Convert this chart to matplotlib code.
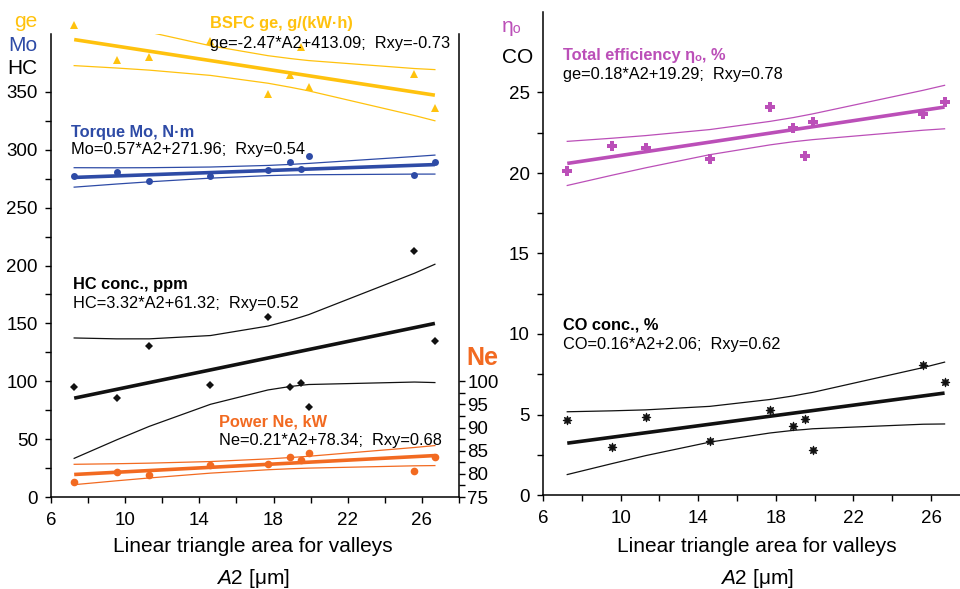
import matplotlib
matplotlib.use('Agg')
import matplotlib.pyplot as plt
import numpy as np

plt.rcParams['font.family'] = ['Liberation Sans', 'DejaVu Sans']
plt.rcParams['mathtext.fontset'] = 'custom'
plt.rcParams['mathtext.rm'] = 'Liberation Sans'
plt.rcParams['mathtext.it'] = 'Liberation Sans:italic'

# ---------------- data ----------------
A2 = [7.25, 9.55, 11.3, 14.6, 17.7, 18.9, 19.5, 19.9, 25.6, 26.7]

ge = [408.0, 377.9, 380.5, 393.8, 347.8, 364.6, 389.2, 354.2, 365.7, 336.2]
Mo = [276.9, 280.4, 273.4, 277.5, 282.4, 289.1, 283.0, 294.9, 277.8, 289.6]
HC = [94.9, 85.1, 130.2, 96.9, 155.1, 95.2, 98.1, 77.8, 212.4, 135.2]
Ne = [78.3, 80.5, 79.7, 81.9, 82.1, 83.7, 83.0, 84.6, 80.6, 83.7]
eta = [20.12, 21.70, 21.57, 20.89, 24.12, 22.81, 21.07, 23.15, 23.65, 24.41]
CO = [4.66, 2.98, 4.86, 3.37, 5.28, 4.29, 4.74, 2.77, 8.09, 7.04]

# regression coefficients (slope, intercept) as printed on the chart
ge_fit = (-2.47, 413.09)
Mo_fit = (0.57, 271.96)
HC_fit = (3.32, 61.32)
Ne_fit = (0.21, 78.34)
eta_fit = (0.18, 19.29)
CO_fit = (0.16, 2.06)

# confidence band half-widths read at each A2 point
ge_band = [22.5, 18.9, 16.4, 12.8, 11.9, 12.4, 12.8, 13.1, 20.3, 22.1]
Mo_band = [8.4, 7.0, 6.1, 4.8, 4.4, 4.6, 4.8, 4.9, 7.6, 8.2]
HC_band = [52.0, 43.6, 37.8, 29.7, 27.6, 28.6, 29.5, 30.2, 47.0, 51.1]
Ne_band = [2.2, 1.84, 1.6, 1.25, 1.17, 1.21, 1.25, 1.28, 1.98, 2.16]
eta_band = [1.37, 1.15, 1.0, 0.78, 0.73, 0.75, 0.78, 0.80, 1.24, 1.35]
CO_band = [1.95, 1.64, 1.42, 1.11, 1.04, 1.07, 1.11, 1.13, 1.76, 1.92]

x_ticks = [6, 8, 10, 12, 14, 16, 18, 20, 22, 24, 26, 28]
x_ticklabels = ['6', '', '10', '', '14', '', '18', '', '22', '', '26', '']

# ---------------- colours ----------------
C_GE = '#FFC20E'
C_MO = '#2E4BA6'
C_HC = '#111111'
C_NE = '#F26A21'
C_ETA = '#BB4FB8'
C_CO = '#111111'

FS_TICK = 13.5
FS_LAB = 15
FS_NOTE = 11.8

W, H = 960, 589
fig = plt.figure(figsize=(W / 100, H / 100), dpi=100)


def fpos(x, y):
    return x / W, 1 - y / H


def ftext(x, y, s, **kw):
    fig.text(*fpos(x, y), s, **kw)


ax = fig.add_axes([51 / W, 92 / H, 408 / W, 463 / H])
axn = ax.twinx()
ax2 = fig.add_axes([543 / W, 94 / H, 426.8 / W, 483 / H])


def draw_series(a, y, fit, band, color, marker, ms, **mk):
    x = np.array(A2)
    line = fit[0] * x + fit[1]
    b = np.array(band)
    a.plot(x, line, color=color, lw=2.6, solid_capstyle='butt', zorder=2)
    a.plot(x, line + b, color=color, lw=0.9, zorder=2)
    a.plot(x, line - b, color=color, lw=0.9, zorder=2)
    a.plot(x, y, linestyle='none', marker=marker, color=color, ms=ms,
           zorder=3, clip_on=False, **mk)


draw_series(ax, ge, ge_fit, ge_band, C_GE, '^', 5.5, markeredgewidth=0)
draw_series(ax, Mo, Mo_fit, Mo_band, C_MO, 'o', 5.0, markeredgewidth=0)
draw_series(ax, HC, HC_fit, HC_band, C_HC, 'D', 4.2, markeredgewidth=0)
draw_series(axn, Ne, Ne_fit, Ne_band, C_NE, 'o', 5.5, markeredgewidth=0)
draw_series(ax2, eta, eta_fit, eta_band, C_ETA, 'P', 7.0, markeredgewidth=0)
draw_series(ax2, CO, CO_fit, CO_band, C_CO, (8, 1, 0), 6.5, markeredgewidth=0.6)

# ---------------- axes styling ----------------
for a in (ax, ax2):
    a.set_xlim(6, 28)
    a.set_xticks(x_ticks)
    a.set_xticklabels(x_ticklabels)
    a.spines['top'].set_visible(False)
    a.spines['right'].set_visible(False)
    for s in ('left', 'bottom'):
        a.spines[s].set_linewidth(1.1)
    a.tick_params(axis='both', direction='out', length=4.5, width=1.0,
                  labelsize=FS_TICK, colors='black')
    a.tick_params(axis='x', pad=6.5)
    a.tick_params(axis='y', pad=5)

ax.set_ylim(0, 400)
ax.set_yticks(np.arange(0, 351, 25))
ax.set_yticklabels([str(int(v)) if v % 50 == 0 else '' for v in np.arange(0, 351, 25)])

axn.set_ylim(75, 175)
ne_ticks = np.arange(75, 100.1, 2.5)
axn.set_yticks(ne_ticks)
axn.set_yticklabels([str(int(v)) if v % 5 == 0 else '' for v in ne_ticks])
for s in ('top', 'left', 'bottom'):
    axn.spines[s].set_visible(False)
axn.spines['right'].set_linewidth(1.1)
axn.tick_params(axis='y', direction='out', length=4.5, width=1.0,
                labelsize=FS_TICK, pad=1.5)

ax2.set_ylim(0, 30)
r_ticks = np.arange(0, 25.1, 2.5)
ax2.set_yticks(r_ticks)
ax2.set_yticklabels([str(int(v)) if v % 5 == 0 else '' for v in r_ticks])

# ---------------- texts ----------------
ftext(37, 26.7, 'ge', color=C_GE, fontsize=FS_LAB, ha='right', va='baseline')
ftext(37, 50.7, 'Mo', color=C_MO, fontsize=FS_LAB, ha='right', va='baseline')
ftext(37, 74, 'HC', color='black', fontsize=FS_LAB, ha='right', va='baseline')

ftext(210, 28.3, 'BSFC ge, g/(kW·h)', color=C_GE, fontsize=FS_NOTE, fontweight='bold', va='baseline')
ftext(210, 48.3, 'ge=-2.47*A2+413.09;  Rxy=-0.73', color='black', fontsize=FS_NOTE, va='baseline')
ftext(70.7, 136.7, 'Torque Mo, N·m', color=C_MO, fontsize=FS_NOTE, fontweight='bold', va='baseline')
ftext(70.7, 154.3, 'Mo=0.57*A2+271.96;  Rxy=0.54', color='black', fontsize=FS_NOTE, va='baseline')
ftext(72.7, 289, 'HC conc., ppm', color='black', fontsize=FS_NOTE, fontweight='bold', va='baseline')
ftext(72.7, 308.3, 'HC=3.32*A2+61.32;  Rxy=0.52', color='black', fontsize=FS_NOTE, va='baseline')
ftext(218.7, 426.7, 'Power Ne, kW', color=C_NE, fontsize=FS_NOTE, fontweight='bold', va='baseline')
ftext(218.7, 445, 'Ne=0.21*A2+78.34;  Rxy=0.68', color='black', fontsize=FS_NOTE, va='baseline')
ftext(466, 365, 'Ne', color=C_NE, fontsize=18, fontweight='bold', va='baseline')

ftext(502, 31.7, 'ηₒ', color=C_ETA, fontsize=FS_LAB, va='baseline')
ftext(502, 63.3, 'CO', color='black', fontsize=FS_LAB, va='baseline')
ftext(563.3, 60, 'Total efficiency ηₒ, %', color=C_ETA, fontsize=FS_NOTE, fontweight='bold', va='baseline')
ftext(563.3, 79, 'ge=0.18*A2+19.29;  Rxy=0.78', color='black', fontsize=FS_NOTE, va='baseline')
ftext(563.3, 329.3, 'CO conc., %', color='black', fontsize=FS_NOTE, fontweight='bold', va='baseline')
ftext(563.3, 349.3, 'CO=0.16*A2+2.06;  Rxy=0.62', color='black', fontsize=FS_NOTE, va='baseline')

for cx in (252.7, 756.5):
    ftext(cx, 552.5, 'Linear triangle area for valleys', fontsize=FS_LAB, ha='center', va='baseline')
    ftext(cx, 584, r'$\it{A}$2 [μm]', fontsize=FS_LAB, ha='center', va='baseline')

fig.savefig('out.png', dpi=100)
